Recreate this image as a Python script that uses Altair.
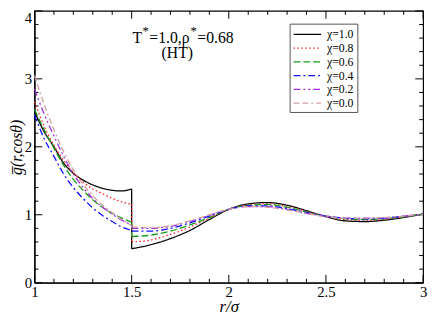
import altair as alt
import pandas as pd

# ---------------- data ----------------
chi = ["χ=1.0", "χ=0.8", "χ=0.6", "χ=0.4", "χ=0.2", "χ=0.0"]
colors = ["#000000", "#ff2020", "#1a9a1a", "#1010ff", "#a030e0", "#d0a0a0"]
dashes = [[1, 0], [1.5, 2.5], [7, 3], [7, 3, 2, 3], [7, 3, 2, 3, 2, 3], [6, 3, 6, 3, 2, 3]]

r_left = [1.0, 1.05, 1.1, 1.15, 1.2, 1.25, 1.3, 1.35, 1.4, 1.45, 1.5]
g_left = {
    "χ=1.0": [2.52, 2.22, 2.00, 1.76, 1.61, 1.51, 1.44, 1.39, 1.36, 1.35, 1.38],
    "χ=0.8": [2.66, 2.30, 2.02, 1.80, 1.62, 1.48, 1.38, 1.31, 1.24, 1.19, 1.15],
    "χ=0.6": [2.55, 2.25, 1.98, 1.73, 1.52, 1.36, 1.22, 1.11, 1.02, 0.95, 0.89],
    "χ=0.4": [2.47, 2.12, 1.86, 1.60, 1.40, 1.24, 1.10, 0.99, 0.90, 0.82, 0.77],
    "χ=0.2": [2.85, 2.48, 2.16, 1.86, 1.60, 1.40, 1.24, 1.11, 1.01, 0.92, 0.85],
    "χ=0.0": [3.05, 2.62, 2.25, 1.93, 1.66, 1.45, 1.28, 1.14, 1.03, 0.93, 0.84],
}

r_right = [1.5, 1.6, 1.7, 1.8, 1.9, 2.0, 2.1, 2.2, 2.3, 2.4, 2.5, 2.6, 2.7, 2.8, 2.9, 3.0]
g_right = {
    "χ=1.0": [0.50, 0.56, 0.65, 0.77, 0.93, 1.08, 1.16, 1.18, 1.14, 1.06, 0.97, 0.91, 0.90, 0.92, 0.96, 1.01],
    "χ=0.8": [0.60, 0.63, 0.71, 0.82, 0.95, 1.08, 1.15, 1.16, 1.12, 1.05, 0.98, 0.93, 0.92, 0.93, 0.97, 1.01],
    "χ=0.6": [0.68, 0.70, 0.76, 0.85, 0.96, 1.08, 1.14, 1.15, 1.11, 1.04, 0.98, 0.94, 0.93, 0.94, 0.97, 1.01],
    "χ=0.4": [0.76, 0.76, 0.80, 0.88, 0.98, 1.08, 1.13, 1.13, 1.09, 1.03, 0.98, 0.95, 0.94, 0.95, 0.98, 1.01],
    "χ=0.2": [0.80, 0.80, 0.83, 0.90, 0.99, 1.08, 1.12, 1.12, 1.08, 1.02, 0.98, 0.95, 0.95, 0.95, 0.98, 1.01],
    "χ=0.0": [0.82, 0.81, 0.84, 0.91, 1.00, 1.08, 1.12, 1.11, 1.07, 1.02, 0.97, 0.95, 0.95, 0.96, 0.98, 1.01],
}

x_major = [1, 1.5, 2, 2.5, 3]
x_minor = [1.1, 1.2, 1.3, 1.4, 1.6, 1.7, 1.8, 1.9, 2.1, 2.2, 2.3, 2.4, 2.6, 2.7, 2.8, 2.9]
y_major = [0, 1, 2, 3, 4]
y_minor = [0.2, 0.4, 0.6, 0.8, 1.2, 1.4, 1.6, 1.8, 2.2, 2.4, 2.6, 2.8, 3.2, 3.4, 3.6, 3.8]

# annotation pieces (data coordinates)
ann_text = ["T", "=1.0,ρ", "=0.68"]
ann_r = [1.505, 1.591, 1.838]
ann_g = [3.53, 3.53, 3.53]
star_text = ["*", "*"]
star_r = [1.5556, 1.803]
star_g = [3.64, 3.64]
ht_text = ["(HT)"]
ht_r = [1.735]
ht_g = [3.30]

W, H = 396, 277
FONT = "Liberation Serif"

# ---------------- tables ----------------
rows = []
for c in chi:
    for r, g in zip(r_left, g_left[c]):
        rows.append({"chi": c, "seg": c + "L", "r": r, "g": g})
    for r, g in zip(r_right, g_right[c]):
        rows.append({"chi": c, "seg": c + "R", "r": r, "g": g})
df = pd.DataFrame(rows)

jump = pd.DataFrame({"chi": chi, "r": [1.5] * 6,
                     "g1": [g_left[c][-1] for c in chi],
                     "g2": [g_right[c][0] for c in chi]})

xs = alt.Scale(domain=[1, 3], nice=False, zero=False)
ys = alt.Scale(domain=[0, 4], nice=False, zero=False)
cs = alt.Scale(domain=chi, range=colors)
ds = alt.Scale(domain=chi, range=dashes)

legend = alt.Legend(
    orient="none", legendX=260, legendY=13, title=None,
    symbolType="M-2,0H2", symbolSize=196, symbolStrokeWidth=1.2,
    symbolOffset=7,
    labelFont=FONT, labelFontSize=12, labelColor="black",
    strokeColor="#555555", fillColor="white", padding=3,
    rowPadding=0, labelOffset=12, symbolFillColor="transparent",
)

xaxis = alt.Axis(values=x_major, format="~g", title="r/σ", titleFontStyle="italic",
                 labelPadding=2, titlePadding=-1, tickSize=0, labelFlush=False)
yaxis = alt.Axis(values=y_major, format="d", title="g̅(r,cosθ)", titleFontStyle="italic",
                 labelPadding=3, titlePadding=0, tickSize=0, titleFontSize=16,
                 labelBaseline={"condition": {"test": "datum.value == 4", "value": "top"},
                                "value": "middle"})

lines = alt.Chart(df).mark_line(interpolate="monotone", strokeWidth=1.3).encode(
    x=alt.X("r:Q", scale=xs, axis=xaxis),
    y=alt.Y("g:Q", scale=ys, axis=yaxis),
    color=alt.Color("chi:N", scale=cs, legend=legend, sort=chi),
    strokeDash=alt.StrokeDash("chi:N", scale=ds, legend=legend, sort=chi),
    detail="seg:N",
)

jumps = alt.Chart(jump).mark_rule(strokeWidth=1.3).encode(
    x=alt.X("r:Q", scale=xs),
    y=alt.Y("g1:Q", scale=ys),
    y2="g2:Q",
    color=alt.Color("chi:N", scale=cs, legend=None),
    strokeDash=alt.StrokeDash("chi:N", scale=ds, legend=None),
)

# ticks (inward, all four sides)
def xticks(vals, L):
    d = pd.DataFrame({"v": vals})
    b = alt.Chart(d).mark_rule(color="black", strokeWidth=1).encode(
        x=alt.X("v:Q", scale=xs), y=alt.value(H), y2=alt.value(H - L))
    t = alt.Chart(d).mark_rule(color="black", strokeWidth=1).encode(
        x=alt.X("v:Q", scale=xs), y=alt.value(0), y2=alt.value(L))
    return [b, t]

def yticks(vals, L):
    d = pd.DataFrame({"v": vals})
    lft = alt.Chart(d).mark_rule(color="black", strokeWidth=1).encode(
        y=alt.Y("v:Q", scale=ys), x=alt.value(0), x2=alt.value(L))
    rgt = alt.Chart(d).mark_rule(color="black", strokeWidth=1).encode(
        y=alt.Y("v:Q", scale=ys), x=alt.value(W), x2=alt.value(W - L))
    return [lft, rgt]

ticks = xticks(x_major, 8) + xticks(x_minor, 4) + yticks(y_major, 8) + yticks(y_minor, 4)

ann = alt.Chart(pd.DataFrame({"t": ann_text, "r": ann_r, "g": ann_g})).mark_text(
    align="left", baseline="alphabetic", font=FONT, fontSize=16, color="black").encode(
    x=alt.X("r:Q", scale=xs), y=alt.Y("g:Q", scale=ys), text="t:N")
stars = alt.Chart(pd.DataFrame({"t": star_text, "r": star_r, "g": star_g})).mark_text(
    align="left", baseline="alphabetic", font=FONT, fontSize=13, color="black").encode(
    x=alt.X("r:Q", scale=xs), y=alt.Y("g:Q", scale=ys), text="t:N")
ht = alt.Chart(pd.DataFrame({"t": ht_text, "r": ht_r, "g": ht_g})).mark_text(
    align="center", baseline="alphabetic", font=FONT, fontSize=16, color="black").encode(
    x=alt.X("r:Q", scale=xs), y=alt.Y("g:Q", scale=ys), text="t:N")

chart = alt.layer(*ticks, lines, jumps, ann, stars, ht).properties(
    width=W, height=H,
    background="white",
    autosize=alt.AutoSizeParams(type="none"),
    padding={"left": 27, "top": 0, "right": 5, "bottom": 33},
).configure_view(stroke="black", strokeWidth=1.2).configure_axis(
    labelFont=FONT, labelFontSize=15, labelColor="black",
    titleFont=FONT, titleFontSize=17, titleFontWeight="normal", titleColor="black",
    domainColor="black", domainWidth=1.2, grid=False, ticks=False,
)

chart.save("out.html", embed_options={"renderer": "svg", "actions": False})
